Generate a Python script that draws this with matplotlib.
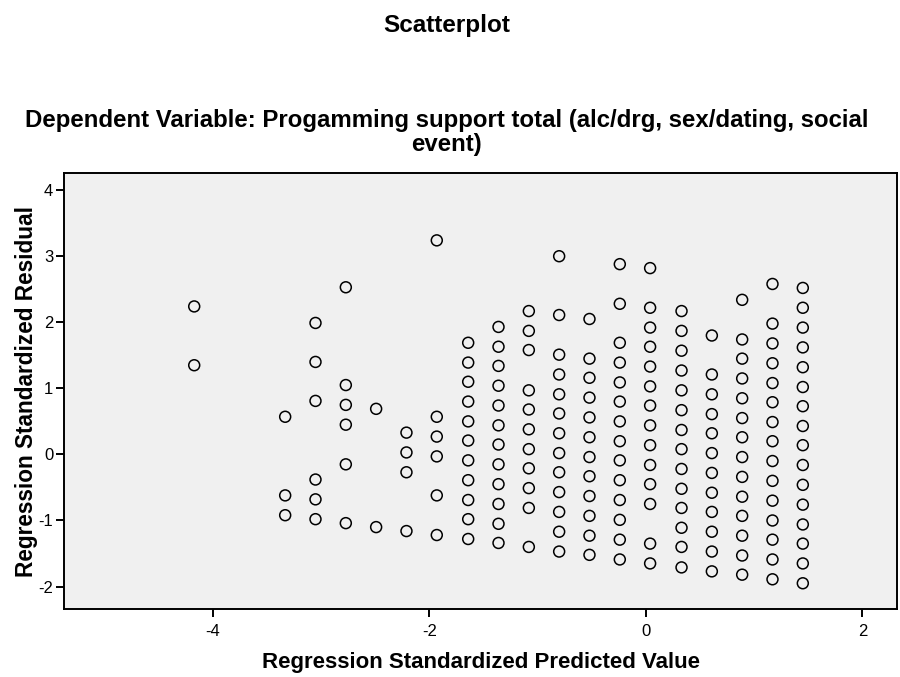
import matplotlib
matplotlib.use("Agg")
import matplotlib.pyplot as plt
import numpy as np

plt.rcParams['font.family'] = ['Liberation Sans', 'DejaVu Sans']
plt.rcParams['axes.unicode_minus'] = False

# Predicted value (x) of each vertical column of points
pred_cols = [-4.17, -3.33, -3.05, -2.77, -2.49, -2.21, -1.93, -1.64, -1.36,
             -1.08, -0.80, -0.52, -0.24, 0.04, 0.33, 0.61, 0.89, 1.17, 1.45]

# Standardized residuals for each column
resid_cols = [
    [2.24, 1.35],
    [0.57, -0.62, -0.92],
    [1.99, 1.40, 0.81, -0.38, -0.68, -0.98],
    [2.53, 1.05, 0.75, 0.45, -0.15, -1.04],
    [0.69, -1.10],
    [0.33, 0.03, -0.27, -1.16],
    [3.24, 0.57, 0.27, -0.03, -0.62, -1.22],
    [1.69, 1.39, 1.10, 0.80, 0.50, 0.21, -0.09, -0.39, -0.69, -0.98, -1.28],
    [1.93, 1.63, 1.34, 1.04, 0.74, 0.44, 0.15, -0.15, -0.45, -0.75, -1.05, -1.34],
    [2.17, 1.87, 1.58, 0.97, 0.68, 0.38, 0.08, -0.21, -0.51, -0.81, -1.40],
    [3.00, 2.11, 1.51, 1.21, 0.91, 0.62, 0.32, 0.02, -0.27, -0.57, -0.87, -1.17, -1.47],
    [2.05, 1.45, 1.16, 0.86, 0.56, 0.26, -0.04, -0.33, -0.63, -0.93, -1.23, -1.52],
    [2.88, 2.28, 1.69, 1.39, 1.09, 0.80, 0.50, 0.20, -0.09, -0.39, -0.69, -0.99, -1.29, -1.59],
    [2.82, 2.22, 1.92, 1.63, 1.33, 1.03, 0.74, 0.44, 0.14, -0.16, -0.45, -0.75, -1.35, -1.65],
    [2.17, 1.87, 1.57, 1.27, 0.97, 0.67, 0.37, 0.08, -0.22, -0.52, -0.81, -1.11, -1.40, -1.71],
    [1.80, 1.21, 0.91, 0.61, 0.32, 0.02, -0.28, -0.58, -0.87, -1.17, -1.47, -1.77],
    [2.34, 1.74, 1.45, 1.15, 0.85, 0.55, 0.26, -0.04, -0.34, -0.64, -0.93, -1.23, -1.53, -1.82],
    [2.58, 1.98, 1.68, 1.38, 1.08, 0.79, 0.49, 0.20, -0.10, -0.40, -0.70, -1.00, -1.29, -1.59, -1.89],
    [2.52, 2.22, 1.92, 1.62, 1.32, 1.02, 0.73, 0.43, 0.14, -0.16, -0.46, -0.76, -1.06, -1.35, -1.65, -1.95],
]

x_ticks = [-4, -2, 0, 2]
y_ticks = [-2, -1, 0, 1, 2, 3, 4]

x = np.concatenate([[px] * len(r) for px, r in zip(pred_cols, resid_cols)])
y = np.concatenate([r for r in resid_cols])

fig = plt.figure(figsize=(9, 6.77), dpi=100)
ax = fig.add_axes([0.0714, 0.1004, 0.9253, 0.6441])
ax.set_facecolor('#F0F0F0')

ax.scatter(x, y, s=62, facecolors='none', edgecolors='black', linewidths=1.1, zorder=3)

ax.set_xlim(-5.37, 2.32)
ax.set_ylim(-2.34, 4.26)
ax.set_xticks(x_ticks)
ax.set_yticks(y_ticks)
ax.tick_params(direction='out', length=6, width=1.4, labelsize=12, color='black')
ax.tick_params(axis='x', pad=5)
ax.tick_params(axis='y', pad=2)
for sp in ax.spines.values():
    sp.set_linewidth(1.4)
    sp.set_color('black')

ax.set_xlabel('Regression Standardized Predicted Value', fontsize=16, fontweight='bold', labelpad=9)
ax.set_ylabel('Regression Standardized Residual', fontsize=16.3, fontweight='bold', labelpad=0)

fig.text(0.496, 0.963, 'Scatterplot', ha='center', va='center', fontsize=17.5, fontweight='bold')
fig.text(0.496, 0.804, 'Dependent Variable: Progamming support total (alc/drg, sex/dating, social\nevent)',
         ha='center', va='center', fontsize=17.3, fontweight='bold', linespacing=1.08)

fig.savefig('out.png', dpi=100)
